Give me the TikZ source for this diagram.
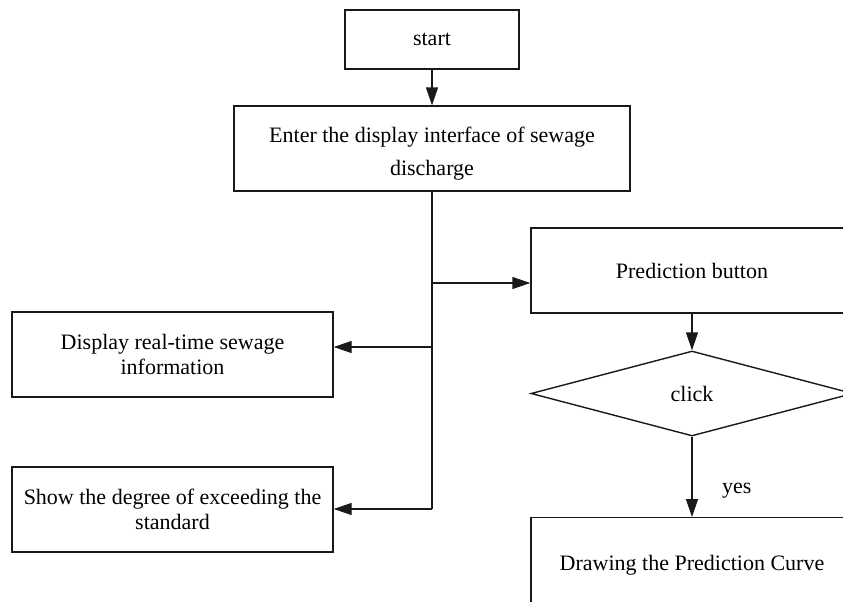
\documentclass[tikz,border=0pt]{standalone}
\usepackage{fontspec}
\setmainfont{Liberation Serif}
\usetikzlibrary{arrows.meta,shapes.geometric}
\begin{document}
\begin{tikzpicture}[x=1pt,y=-1pt,
  line width=1.4pt, draw=black!90,
  box/.style={draw, rectangle, inner sep=0pt, align=center, font=\fontsize{22}{25}\selectfont},
  flow/.style={-{Triangle[length=18pt,width=12pt]}},
]
\useasboundingbox (0,0) rectangle (843,602);
\clip (0,0) rectangle (843,602);
\fill[white] (0,0) rectangle (843,602);
\node[box, minimum width=174pt, minimum height=59pt] (start) at (432,39.5) {start};
\node[box, minimum width=396pt, minimum height=85pt] (enter) at (432,148.5) {\raisebox{-5pt}[\height][\depth]{\parbox{380pt}{\fontsize{22}{33}\selectfont\centering Enter the display interface of sewage\\discharge}}};
\node[box, minimum width=322pt, minimum height=85pt] (pred) at (692,270.5) {Prediction button};
\node[draw, diamond, aspect=3.79, inner sep=0pt, minimum width=322pt, minimum height=85pt, font=\fontsize{22}{25}\selectfont] (click) at (692,393.5) {click};
\node[box, minimum width=322pt, minimum height=85pt, anchor=north] (curve) at (692,517) {\raisebox{-5pt}[\height][\depth]{Drawing the Prediction Curve}};
\node[box, minimum width=321pt, minimum height=85pt] (disp) at (172.5,354.5) {Display real-time sewage\\information};
\node[box, minimum width=321pt, minimum height=85pt] (show) at (172.5,509.5) {Show the degree of exceeding the\\standard};
\coordinate (jp) at (432,283);
\coordinate (jd) at (432,347);
\coordinate (js) at (432,509);
\draw[flow] (start) -- (enter);
\draw (enter.south) -- (js);
\draw[flow] (jp) -- (jp -| pred.west);
\draw[flow] (jd) -- (jd -| disp.east);
\draw[flow] (js) -- (js -| show.east);
\draw[flow] (pred) -- (click);
\draw[flow] (click) -- node[right, xshift=26pt, yshift=-14pt, font=\fontsize{22}{25}\selectfont] {yes} (curve);
\end{tikzpicture}
\end{document}
